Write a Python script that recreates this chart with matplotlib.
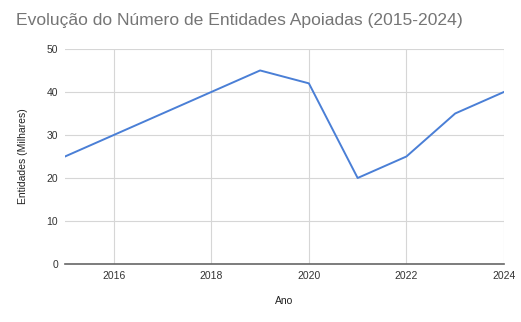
import matplotlib
matplotlib.use("Agg")
import matplotlib.pyplot as plt

anos = [2015, 2016, 2017, 2018, 2019, 2020, 2021, 2022, 2023, 2024]
entidades = [25, 30, 35, 40, 45, 42, 20, 25, 35, 40]
x_ticks = [2016, 2018, 2020, 2022, 2024]
y_ticks = [0, 10, 20, 30, 40, 50]

plt.rcParams["font.family"] = ["Liberation Sans", "DejaVu Sans"]

fig = plt.figure(figsize=(5.21, 3.22), dpi=100)
ax = fig.add_axes([0.1248, 0.180, 0.8425, 0.668])

ax.plot(anos, entidades, color="#4a7fd6", lw=1.4, solid_joinstyle="round")

ax.set_xlim(2015, 2024)
ax.set_ylim(0, 50)
ax.set_xticks(x_ticks)
ax.set_yticks(y_ticks)
ax.tick_params(length=0, labelsize=7.5, colors="#333333", pad=5)
ax.grid(True, color="#d6d6d6", lw=0.8)
ax.set_axisbelow(True)
for sp in ["top", "right", "left"]:
    ax.spines[sp].set_visible(False)
ax.spines["bottom"].set_color("#666666")
ax.spines["bottom"].set_linewidth(1.2)

ax.set_xlabel("Ano", fontsize=7.5, color="#222222", labelpad=11)
ax.set_ylabel("Entidades (Milhares)", fontsize=7.5, color="#222222", labelpad=13)

fig.text(0.031, 0.935, "Evolução do Número de Entidades Apoiadas (2015-2024)",
         fontsize=12.6, color="#757575", ha="left", va="center")

fig.savefig("out.png", dpi=100, facecolor="white")
